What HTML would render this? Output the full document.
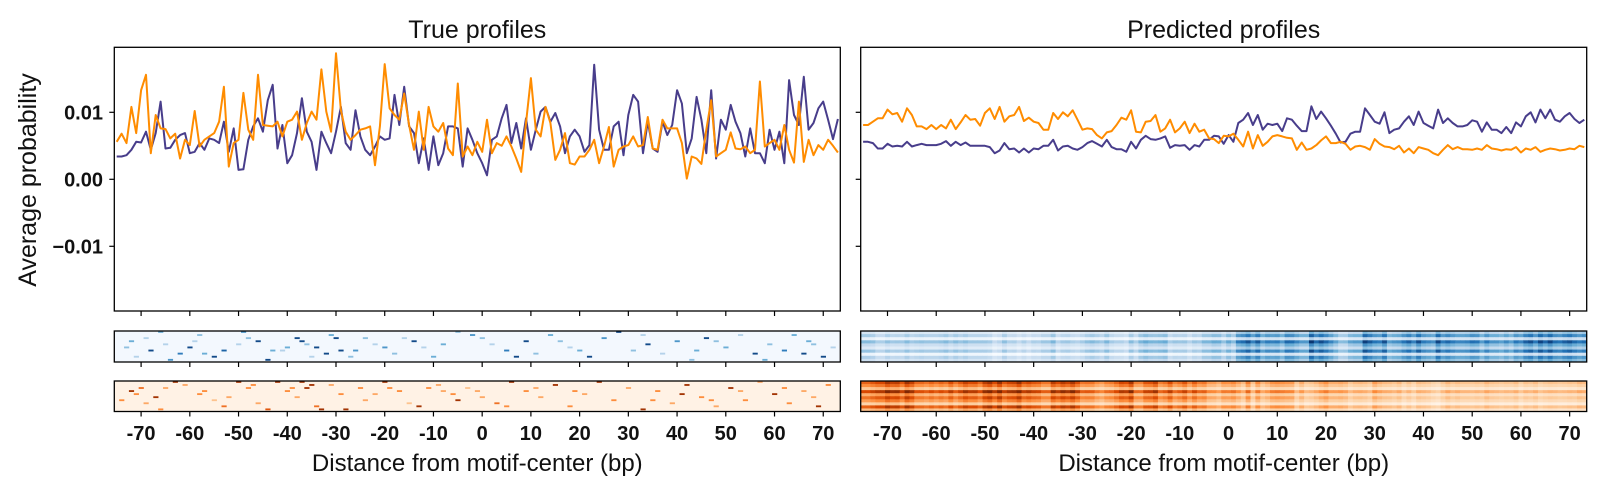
<!DOCTYPE html>
<html><head><meta charset="utf-8"><style>
html,body{margin:0;padding:0;background:#fff;}
svg{display:block;font-family:"Liberation Sans",sans-serif;}
</style></head><body>
<svg id="fig" width="1600" height="492" viewBox="0 0 1600 492" xmlns="http://www.w3.org/2000/svg"></svg>
<script>
const positions = []; for (let v=-75; v<=73; v++) positions.push(v);
const xTicks = [-70,-60,-50,-40,-30,-20,-10,0,10,20,30,40,50,60,70];
const yTicks = [0.01, 0.00, -0.01];
const yTickLabels = ["0.01","0.00","\u22120.01"];
const trueNeg = [.0034,.0034,.0036,.0044,.0056,.0055,.0071,.0044,.0069,.0116,.0046,.0047,.0059,.0066,.0069,.0039,.0041,.0054,.0044,.0061,.0059,.0054,.0086,.0041,.0076,.0014,.0015,.0059,.0079,.0091,.0071,.0118,.0141,.0046,.0081,.0024,.0036,.0069,.0121,.0071,.0056,.0014,.0071,.0054,.0039,.0071,.0108,.0054,.0044,.0103,.0064,.0044,.0036,.0049,.0064,.0059,.0061,.0126,.0081,.0138,.0079,.0069,.0024,.0061,.0014,.0064,.0021,.0039,.0079,.0079,.0076,.0019,.0076,.0059,.0039,
.0024,.0006,.0059,.0064,.0091,.0111,.0054,.0084,.0046,.0091,.0044,.0074,.0101,.0108,.0086,.0099,.0079,.0039,.0064,.0074,.0064,.0041,.0051,.0171,.0074,.0044,.0044,.0079,.0086,.0036,.0096,.0126,.0116,.0039,.0086,.0046,.0041,.0086,.0066,.0081,.0133,.0113,.0039,.0061,.0123,.0089,.0039,.0133,.0031,.0089,.0074,.0111,.0086,.0069,.0034,.0076,.0039,.0039,.0024,.0074,.0044,.0071,.0024,.0148,.0096,.0081,.0153,.0074,.0084,.0106,.0116,.0089,.0060,.0090];
const truePos = [.0056,.0068,.0054,.0108,.0069,.0133,.0156,.0039,.0096,.0076,.0075,.0061,.0068,.0031,.0059,.0051,.0102,.0049,.0059,.0064,.0069,.0086,.0138,.0019,.0054,.0059,.0129,.0074,.0059,.0156,.0081,.0080,.0079,.0086,.0064,.0086,.0089,.0101,.0059,.0084,.0101,.0089,.0164,.0101,.0071,.0188,.0103,.0071,.0059,.0066,.0074,.0076,.0079,.0021,.0079,.0172,.0106,.0096,.0089,.0128,.0081,.0044,.0101,.0044,.0108,.0079,.0071,.0084,.0046,.0036,.0143,.0034,.0049,.0036,
.0056,.0041,.0089,.0039,.0054,.0050,.0064,.0049,.0031,.0011,.0084,.0151,.0074,.0064,.0108,.0084,.0029,.0044,.0069,.0024,.0022,.0034,.0034,.0044,.0059,.0024,.0049,.0078,.0019,.0044,.0049,.0051,.0064,.0049,.0051,.0093,.0046,.0044,.0089,.0076,.0076,.0076,.0054,.0001,.0034,.0031,.0023,.0074,.0118,.0034,.0039,.0044,.0070,.0046,.0045,.0049,.0039,.0044,.0146,.0049,.0054,.0059,.0044,.0081,.0044,.0025,.0116,.0026,.0059,.0036,.0051,.0044,.0059,.0050,.0040];
const predNeg = [.0056,.0056,.0054,.0046,.0046,.0053,.0049,.0050,.0049,.0056,.0049,.0051,.0053,.0051,.0051,.0051,.0053,.0057,.0050,.0056,.0051,.0055,.0050,.0050,.0050,.0050,.0048,.0039,.0043,.0054,.0045,.0046,.0040,.0046,.0040,.0046,.0045,.0050,.0050,.0059,.0043,.0049,.0050,.0046,.0044,.0048,.0054,.0057,.0053,.0049,.0059,.0048,.0045,.0045,.0041,.0056,.0046,.0059,.0065,.0060,.0059,.0061,.0064,.0047,.0051,.0050,.0051,.0044,.0051,.0049,.0059,.0059,
.0065,.0064,.0053,.0066,.0056,.0084,.0089,.0099,.0081,.0096,.0074,.0083,.0081,.0083,.0072,.0091,.0089,.0080,.0072,.0072,.0109,.0090,.0101,.0091,.0080,.0068,.0055,.0056,.0068,.0071,.0071,.0106,.0096,.0086,.0083,.0100,.0069,.0074,.0076,.0086,.0094,.0081,.0101,.0084,.0080,.0076,.0104,.0084,.0091,.0084,.0079,.0079,.0081,.0088,.0086,.0071,.0085,.0074,.0074,.0069,.0078,.0069,.0085,.0079,.0094,.0100,.0085,.0104,.0091,.0104,.0089,.0086,.0094,.0099,.0090,.0084,.0089];
const predPos = [.0081,.0081,.0086,.0091,.0091,.0104,.0097,.0099,.0086,.0106,.0096,.0079,.0079,.0075,.0081,.0075,.0081,.0076,.0089,.0075,.0085,.0096,.0089,.0090,.0080,.0099,.0106,.0090,.0108,.0086,.0094,.0096,.0108,.0087,.0092,.0086,.0084,.0074,.0074,.0099,.0090,.0100,.0094,.0103,.0089,.0074,.0076,.0075,.0066,.0061,.0070,.0072,.0081,.0092,.0089,.0103,.0071,.0070,.0086,.0087,.0096,.0071,.0076,.0089,.0070,.0076,.0086,.0069,.0083,.0071,.0074,.0061,
.0060,.0054,.0065,.0064,.0068,.0059,.0049,.0071,.0046,.0066,.0050,.0056,.0064,.0066,.0064,.0062,.0061,.0044,.0055,.0044,.0046,.0051,.0058,.0064,.0054,.0054,.0056,.0053,.0044,.0049,.0050,.0048,.0044,.0060,.0053,.0049,.0048,.0045,.0050,.0040,.0046,.0039,.0048,.0046,.0044,.0039,.0036,.0044,.0051,.0045,.0048,.0045,.0045,.0044,.0046,.0044,.0051,.0046,.0045,.0043,.0045,.0044,.0048,.0040,.0046,.0044,.0048,.0041,.0044,.0046,.0045,.0043,.0044,.0046,.0045,.0050,.0048];
const predRowNeg = [0.75,1.15,0.55,1.35,0.95,0.7,1.25,0.5,1.1,0.85];
const predRowPos = [1.3,1.05,0.7,1.45,0.85,1.2,0.95,0.6,1.3,0.75];
const trueEventsNeg = [[-73,5,.4],[-71,8,.3],[-69,2,.3],[-68,6,.9],[-66,0,.5],[-65,4,.3],[-64,9,.6],[-62,7,.7],[-60,5,.9],[-59,3,.3],[-57,7,.5],[-55,8,.9],[-53,6,.8],[-49,0,.6],[-48,2,.4],[-46,3,.9],[-44,9,.9],[-41,6,.3],[-40,5,.5],[-38,2,.9],[-37,3,.9],[-35,8,.3],[-34,5,.9],[-32,7,.9],[-31,1,.5],[-30,2,.9],[-27,8,.4],[-26,6,.6],[-24,2,.4],[-22,4,.3],[-20,5,.6],[-18,7,.4],[-14,3,.9],[-12,5,.3],[-8,4,.5],[-5,0,.4],[-2,1,.6],[2,4,.3],[5,6,.7],[9,3,.9],[11,7,.4],[14,1,.5],[18,5,.3],[22,8,.9],[25,2,.6],[28,0,.9],[31,6,.4],[34,4,.9],[37,7,.3],[40,3,.6],[43,9,.4],[46,2,.9],[50,5,.5],[53,1,.3],[56,7,.9],[59,4,.4],[62,6,.7],[64,1,.5],[66,7,.9],[68,4,.4],[70,8,.9],[72,5,.3],[-72,3,.5],[-58,1,.4],[-50,4,.3],[-43,6,.5],[-36,4,.4],[-29,6,.9],[-16,2,.3],[-10,8,.5],[0,2,.4],[7,8,.9],[16,3,.4],[20,6,.5],[33,1,.3],[44,6,.5],[48,3,.4],[58,9,.5],[67,3,.5]];
const trueEventsPos = [[-74,6,.5],[-72,3,.9],[-70,2,.6],[-69,7,.4],[-67,5,.9],[-66,9,.5],[-63,0,.9],[-61,1,.4],[-58,4,.5],[-55,6,.3],[-53,8,.6],[-50,0,.9],[-48,2,.5],[-46,7,.4],[-44,9,.7],[-42,0,.9],[-40,3,.5],[-38,5,.4],[-37,0,.9],[-35,1,.9],[-34,8,.6],[-33,9,.9],[-31,1,.4],[-28,9,.9],[-25,2,.5],[-22,4,.4],[-20,0,.9],[-17,3,.5],[-15,7,.3],[-13,8,.9],[-11,2,.5],[-8,3,.4],[-5,6,.9],[-3,2,.3],[0,5,.4],[3,7,.6],[6,0,.9],[9,3,.5],[12,5,.4],[15,1,.9],[18,8,.5],[21,4,.4],[24,0,.9],[27,6,.5],[30,2,.4],[33,9,.9],[36,3,.5],[39,7,.4],[42,1,.9],[45,5,.5],[48,8,.4],[51,2,.9],[54,6,.5],[57,0,.4],[60,4,.9],[63,7,.5],[66,3,.4],[69,8,.9],[71,1,.5],[-71,4,.5],[-65,2,.4],[-57,3,.5],[-52,5,.4],[-47,1,.5],[-39,2,.5],[-36,2,.9],[-29,4,.5],[-24,6,.4],[-19,2,.5],[-9,1,.4],[-6,4,.5],[-1,3,.4],[5,8,.5],[11,2,.4],[19,3,.5],[35,6,.5],[41,4,.9],[47,6,.5],[53,3,.4],[62,2,.5],[68,5,.4]];

const NS="http://www.w3.org/2000/svg";
const svg=document.getElementById('fig');
function el(tag,attrs,parent){const e=document.createElementNS(NS,tag);for(const k in attrs)e.setAttribute(k,attrs[k]);(parent||svg).appendChild(e);return e;}
const Y0=47.3, Y1=311, W=726;
const panelsX=[114.3,860.7];
function xs(p,v){return panelsX[p]+(v+75.5)*(W/149);}
function ys(v){return 179.3-6700*v;}
function lerpC(stops,t){t=Math.max(0,Math.min(1,t));const n=stops.length-1;const i=Math.min(n-1,Math.floor(t*n));const f=t*n-i;const a=stops[i],b=stops[i+1];return 'rgb('+a.map((c,k)=>Math.round(c+(b[k]-c)*f)).join(',')+')';}
const BLUES=[[247,251,255],[198,219,239],[107,174,214],[33,113,181],[8,48,107]];
const ORANGES=[[255,245,235],[253,208,162],[253,141,60],[217,72,1],[127,39,4]];
const HM=[[331,362],[381,411.5]];
const NROWS=10;
const titles=["True profiles","Predicted profiles"];
const series=[[trueNeg,truePos],[predNeg,predPos]];
for(let p=0;p<2;p++){
  const g=el('g',{});
  
  
  const t=el('text',{x:panelsX[p]+W/2,y:38,'text-anchor':'middle','font-size':25,fill:'#111'},g);
  t.textContent=titles[p];
  
  
  const cols=['#483d8b','#ff8c00'];
  for(let s=0;s<2;s++){
    const d=series[p][s].map((v,i)=>(i?'L':'M')+xs(p,positions[i]).toFixed(1)+','+ys(v).toFixed(1)).join('');
    const path=el('path',{d:d,fill:'none',stroke:cols[s],'stroke-width':2,'stroke-linejoin':'round'},g);
    
    
  }
  const fr=el('rect',{x:panelsX[p],y:Y0,width:W,height:Y1-Y0,fill:'none',stroke:'#000','stroke-width':1.3},g);
  
  
  yTicks.forEach((v,i)=>{
    el('line',{x1:panelsX[p]-5,x2:panelsX[p],y1:ys(v),y2:ys(v),stroke:'#000','stroke-width':1.2},g);
    if(p===0){
      const tl=el('text',{x:103,y:ys(v)+7,'text-anchor':'end','font-size':20,'font-weight':'bold',fill:'#111'},g);
      tl.textContent=yTickLabels[i];
      
      
    }
  });
  xTicks.forEach(v=>{el('line',{x1:xs(p,v),x2:xs(p,v),y1:Y1,y2:Y1+5,stroke:'#000','stroke-width':1.2},g);});
  for(let h=0;h<2;h++){
    const hg=el('g',{},g);
    
    
    const [ha,hb]=HM[h];const rh=(hb-ha)/NROWS;const cw=W/149;
    const cmap=h===0?BLUES:ORANGES;
    el('rect',{x:panelsX[p],y:ha,width:W,height:hb-ha,fill:lerpC(cmap,0.02)},hg);
    if(p===0){
      const ev=h===0?trueEventsNeg:trueEventsPos;
      ev.forEach(e=>{
        const c=el('rect',{x:xs(0,e[0])-cw/2,y:ha+e[1]*rh,width:cw+0.3,height:rh*0.6,fill:lerpC(cmap,e[2])},hg);
        
        
      });
    } else {
      const prof=h===0?predNeg:predPos; const rf=h===0?predRowNeg:predRowPos;
      for(let r=0;r<NROWS;r++){
        prof.forEach((v,i)=>{
          const c=el('rect',{x:xs(1,positions[i])-cw/2,y:ha+r*rh,width:cw+0.4,height:rh+0.4,fill:lerpC(cmap,(v*rf[r]-0.002)/0.013)},hg);
          
          
        });
      }
    }
    el('rect',{x:panelsX[p],y:ha,width:W,height:hb-ha,fill:'none',stroke:'#000','stroke-width':1.3},hg);
    xTicks.forEach(v=>{el('line',{x1:xs(p,v),x2:xs(p,v),y1:hb,y2:hb+5,stroke:'#000','stroke-width':1.2},hg);});
  }
  xTicks.forEach(v=>{
    const tl=el('text',{x:xs(p,v),y:440,'text-anchor':'middle','font-size':20,'font-weight':'bold',fill:'#111'},g);
    tl.textContent=v<0?'-'+Math.abs(v):String(v);
    
    
  });
  const xl=el('text',{x:panelsX[p]+W/2,y:471,'text-anchor':'middle','font-size':24,fill:'#111'},g);
  xl.textContent='Distance from motif-center (bp)';
  
  
}
const yl=el('text',{x:0,y:0,'text-anchor':'middle','font-size':25,fill:'#111',transform:'translate(36,180) rotate(-90)'});
yl.textContent='Average probability';


</script>
</body></html>
